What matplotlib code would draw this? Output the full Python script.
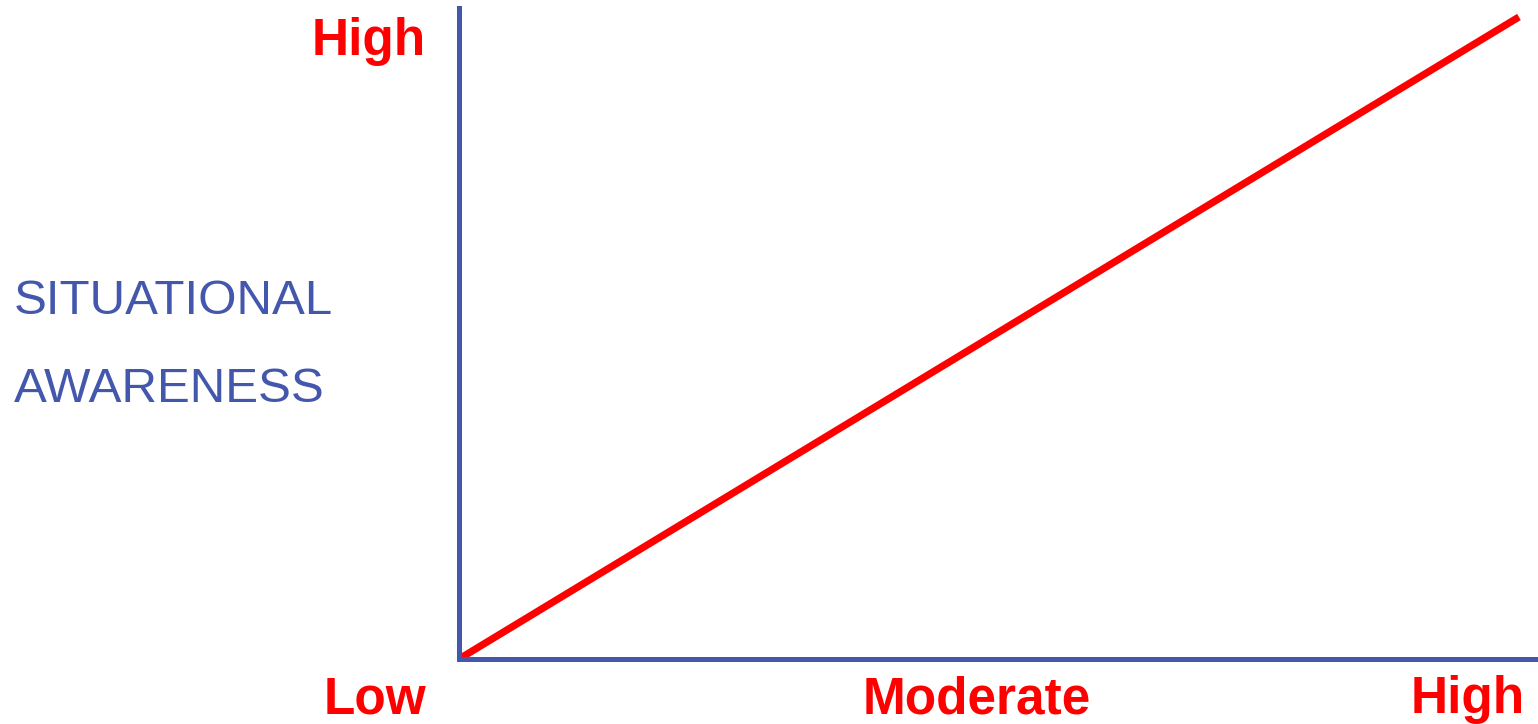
import matplotlib
matplotlib.use("Agg")
import matplotlib.pyplot as plt

# Data
x_values = [0.0, 1.0]
y_values = [0.0, 1.0]
x_labels = ["Low", "Moderate", "High"]
y_top_label = "High"
y_title = ["SITUATIONAL", "AWARENESS"]

RED = "#FF0000"
BLUE = "#4357AD"
W, H = 1538, 724

plt.rcParams['font.family'] = ['Liberation Sans', 'DejaVu Sans']
fig = plt.figure(figsize=(W / 100, H / 100), dpi=100)
ax = fig.add_axes([459 / W, (H - 659) / H, (W - 459) / W, (659 - 8) / H])
ax.set_xlim(0, 1.018)
ax.set_ylim(0, 1.014)
ax.plot(x_values, y_values, color=RED, lw=5.2, solid_capstyle='butt', clip_on=False)
for s in ['top', 'right']:
    ax.spines[s].set_visible(False)
for s in ['left', 'bottom']:
    ax.spines[s].set_color(BLUE)
    ax.spines[s].set_linewidth(3.6)
ax.set_xticks([])
ax.set_yticks([])

# Axis texts (figure pixel fractions, baseline anchored)
fig.text(426 / W, 1 - 55 / H, y_top_label, color=RED, fontsize=37, fontweight='bold',
         ha='right', va='baseline')
fig.text(14 / W, 1 - 314 / H, y_title[0], color=BLUE, fontsize=35.5, ha='left', va='baseline')
fig.text(14 / W, 1 - 402 / H, y_title[1], color=BLUE, fontsize=35.5, ha='left', va='baseline')

fig.text(426 / W, 1 - 713 / H, x_labels[0], color=RED, fontsize=37, fontweight='bold',
         ha='right', va='baseline')
fig.text(977 / W, 1 - 713 / H, x_labels[1], color=RED, fontsize=37, fontweight='bold',
         ha='center', va='baseline')
fig.text(1468 / W, 1 - 713 / H, x_labels[2], color=RED, fontsize=37, fontweight='bold',
         ha='center', va='baseline')

fig.savefig("out.png", dpi=100, facecolor='white')
